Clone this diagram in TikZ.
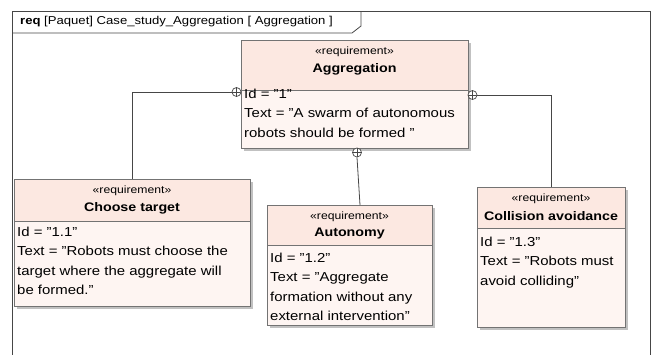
\documentclass[tikz,border=0pt]{standalone}
\usepackage{fontspec}
\setmainfont[FakeStretch=1.15]{Liberation Sans}
\usetikzlibrary{shadows}
\definecolor{reqhead}{RGB}{252,232,225}
\definecolor{reqbody}{RGB}{254,245,242}
\definecolor{reqline}{RGB}{115,115,115}
\definecolor{frameline}{RGB}{70,70,70}
\tikzset{
  reqbox/.style={draw=reqline, line width=0.8pt, fill=reqbody, anchor=north west, inner sep=0pt,
    drop shadow={shadow xshift=2.5pt, shadow yshift=-2.5pt, fill=black!30, opacity=0.8}},
  stereo/.style={inner sep=0pt, font=\fontsize{10.6}{12}\selectfont},
  reqname/.style={inner sep=0pt, font=\fontsize{12.4}{14}\selectfont\bfseries},
  reqtext/.style={anchor=north west, inner sep=0pt, align=left, font=\fontsize{13}{19.2}\selectfont},
  link/.style={draw=frameline, line width=0.8pt},
  ownedend/.style={circle, draw=frameline, line width=0.7pt, fill=white, minimum size=9pt, inner sep=0pt,
    path picture={\draw[frameline, line width=0.7pt] (path picture bounding box.north) -- (path picture bounding box.south)
      (path picture bounding box.west) -- (path picture bounding box.east);}}
}
\begin{document}
\begin{tikzpicture}[x=1pt, y=-1pt]
\useasboundingbox (0,0) rectangle (655,354);
% diagram frame
\draw[link] (12,360) -- (12,11) -- (650,11) -- (650,360);
\draw[link] (12,33) -- (352,33) -- (361,26) -- (361,11);
\node (title)[anchor=west, inner sep=0pt, font=\fontsize{11.4}{13}\selectfont] at (20,22) {\textbf{req} [Paquet] Case\_study\_Aggregation [ Aggregation ]};

% Aggregation
\node (agg)[reqbox, minimum width=227pt, minimum height=108pt] at (241,40) {};
\draw[draw=reqline, line width=0.8pt, fill=reqhead] (agg.north west) rectangle ++(227,50);
\node (aggst)[stereo] at (354.5,52) {«requirement»};
\node (aggnm)[reqname] at (354.5,69) {Aggregation};
\node (aggtx)[reqtext] at (244,89) {Id = "1"\\Text = "A swarm of autonomous\\robots should be formed "};

% Choose target
\node (choose)[reqbox, minimum width=236pt, minimum height=127pt] at (14,179) {};
\draw[draw=reqline, line width=0.8pt, fill=reqhead] (choose.north west) rectangle ++(236,42);
\node (choosest)[stereo] at (132,191) {«requirement»};
\node (choosenm)[reqname] at (132,208) {Choose target};
\node (choosetx)[reqtext] at (17,227) {Id = "1.1"\\Text = "Robots must choose the\\target where the aggregate will\\be formed."};

% Autonomy
\node (auton)[reqbox, minimum width=165pt, minimum height=120pt] at (267,205) {};
\draw[draw=reqline, line width=0.8pt, fill=reqhead] (auton.north west) rectangle ++(165,40);
\node (autonst)[stereo] at (349.5,217) {«requirement»};
\node (autonnm)[reqname] at (349.5,234) {Autonomy};
\node (autontx)[reqtext] at (270,253) {Id = "1.2"\\Text = "Aggregate\\formation without any\\external intervention"};

% Collision avoidance
\node (collis)[reqbox, minimum width=148pt, minimum height=140pt] at (477,187) {};
\draw[draw=reqline, line width=0.8pt, fill=reqhead] (collis.north west) rectangle ++(148,41);
\node (collisst)[stereo] at (551,199) {«requirement»};
\node (collisnm)[reqname] at (551,216) {Collision avoidance};
\node (collistx)[reqtext] at (480,237) {Id = "1.3"\\Text = "Robots must\\avoid colliding"};

% containment links
\node (end1)[ownedend] at (236.5,92) {};
\node (end2)[ownedend] at (472.5,95) {};
\node (end3)[ownedend] at (357,152.5) {};
\coordinate (autontop) at (360,205);
\draw[link] (end1.west) -| (choose.north);
\draw[link] (end2.east) -| (collis.north);
\draw[link] (end3.south) -- (autontop);
\end{tikzpicture}
\end{document}
